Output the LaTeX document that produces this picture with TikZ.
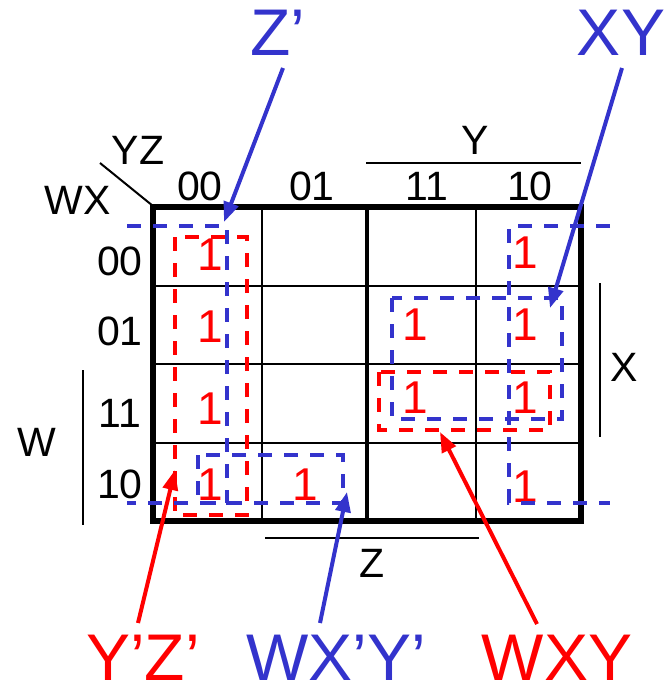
\documentclass[tikz,border=0pt]{standalone}
\usepackage{fontspec}
\setmainfont{Liberation Sans}
\usepackage{xcolor}
\usetikzlibrary{arrows.meta}
\definecolor{kblue}{RGB}{51,51,204}
\definecolor{kred}{RGB}{255,0,0}

\begin{document}
\begin{tikzpicture}[x=1pt,y=-1pt,
  lbl/.style={inner sep=0pt,font=\fontsize{41}{41}\selectfont},
  one/.style={inner sep=0pt,text=kred,font=\fontsize{46}{46}\selectfont},
  big/.style={inner sep=0pt,font=\fontsize{66}{66}\selectfont},
  grp/.style={line width=4pt,dash pattern=on 14pt off 12pt},
  ptr/.style={line width=4pt,-{Triangle[length=20pt,width=15pt]}}]
  \useasboundingbox (0,0) rectangle (667,688);
  % K-map grid
  \foreach \y in {286,364,443} \draw[line width=2.5pt] (153,\y) -- (581,\y);
  \foreach \x in {262,476} \draw[line width=2.5pt] (\x,207) -- (\x,521);
  \draw[line width=3.5pt] (367,207) -- (367,521);
  \draw[line width=5.5pt] (153,207) rectangle (581,521);
  % corner
  \node[lbl] (yz) at (138,150) {YZ};
  \node[lbl] (wx) at (78,200) {WX};
  \draw[line width=2pt] (100,163) -- (153,206);
  % column and row codes
  \foreach \x/\t in {200/00,312/01,427/11,530/10}
    \node[lbl] (c\t) at (\x,186) {\t};
  \foreach \y/\t in {261/00,331/01,413/11,484/10}
    \node[lbl] (r\t) at (120,\y) {\t};
  % variable bars
  \node[lbl] (vy) at (475,140) {Y};
  \draw[line width=2.5pt] (366,163) -- (581,163);
  \node[lbl] (vx) at (624,367) {X};
  \draw[line width=2.5pt] (600,283) -- (600,437);
  \node[lbl] (vw) at (37,442) {W};
  \draw[line width=2.5pt] (83,370) -- (83,525);
  \node[lbl] (vz) at (372,563) {Z};
  \draw[line width=2.5pt] (265,538) -- (479,538);
  % minterms
  \foreach \x/\y/\n in {210/255/a,525/253/b,210/327/c,415/325/d,525/325/e,
      210/409/f,415/398/g,525/398/h,210/485/i,305/485/j,525/487/k}
    \node[one] (m\n) at (\x,\y) {1};
  % groups
  \draw[grp,kred] (175,237) rectangle (247,515);
  \draw[grp,kred] (379,372) rectangle (550,430);
  \draw[grp,kblue] (127,226) -- (227,226) -- (227,503) -- (127,503);
  \draw[grp,kblue] (610,226) -- (509,226) -- (509,503) -- (610,503);
  \draw[grp,kblue] (198,455) rectangle (343,503);
  \draw[grp,kblue] (392,298) rectangle (562,419);
  % terms
  \node[big,text=kblue] (tz) at (278,33) {Z’};
  \node[big,text=kblue] (txy) at (621,33) {XY};
  \node[big,text=kred] (tyz) at (143,658) {Y’Z’};
  \node[big,text=kblue] (twxy) at (336,658) {WX’Y’};
  \node[big,text=kred] (tw) at (557,658) {WXY};
  \coordinate (tzfoot) at (283,68);
  \coordinate (txyfoot) at (622,68);
  \coordinate (tyzfoot) at (138,623);
  \coordinate (twxyfoot) at (320,623);
  \coordinate (twfoot) at (537,624);
  \coordinate (gz) at (224,222);
  \coordinate (gxy) at (550,308);
  \coordinate (gyz) at (175,470);
  \coordinate (gwxy) at (347,492);
  \coordinate (gw) at (440,432);
  \draw[ptr,kblue] (tzfoot) -- (gz);
  \draw[ptr,kblue] (txyfoot) -- (gxy);
  \draw[ptr,kred] (tyzfoot) -- (gyz);
  \draw[ptr,kblue] (twxyfoot) -- (gwxy);
  \draw[ptr,kred] (twfoot) -- (gw);
\end{tikzpicture}
\end{document}
